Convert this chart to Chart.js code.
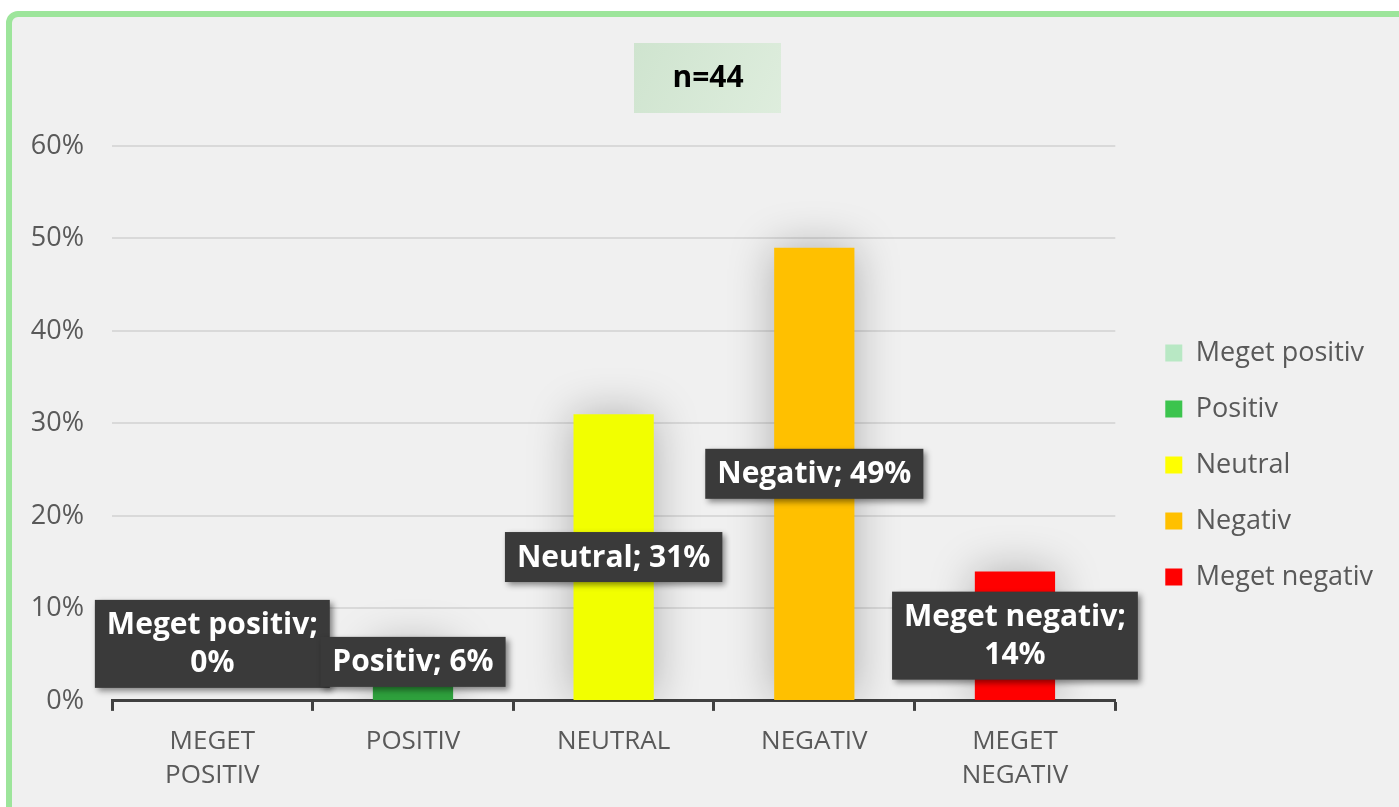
<!DOCTYPE html>
<html>
<head>
<meta charset="utf-8">
<script src="https://cdn.jsdelivr.net/npm/chart.js@4.4.0/dist/chart.umd.min.js"></script>
<style>
  html, body { margin: 0; padding: 0; background: #ffffff; overflow: hidden; }
  #frame {
    position: absolute; left: 6px; top: 11px; width: 1500px; height: 900px;
    border: 6px solid #9de59b; border-radius: 12px; background: #f0f0f0;
  }
  #wrap { position: absolute; left: 0; top: 0; width: 1399px; height: 807px; }
</style>
</head>
<body>
<div id="frame"></div>
<div id="wrap"><canvas id="chart"></canvas></div>
<script>
// data
const categories = ['Meget positiv', 'Positiv', 'Neutral', 'Negativ', 'Meget negativ'];
const tickLabels = [['MEGET', 'POSITIV'], 'POSITIV', 'NEUTRAL', 'NEGATIV', ['MEGET', 'NEGATIV']];
const values = [0, 6, 31, 49, 14];
const barColors = ['#b8e8c4', '#2ea03c', '#f2ff00', '#ffc000', '#ff0000'];
const legendColors = ['#b8e8c4', '#3cc44e', '#ffff00', '#ffc000', '#ff0000'];
const yTicks = [0, 10, 20, 30, 40, 50, 60];
const titleText = 'n=44';

const FONT = "'Open Sans', sans-serif";
const GREY = '#595959';

// nudge title and legend after layout (excel puts them a bit off the grid)
const nudge = {
  id: 'nudge',
  afterLayout(chart) {
    const t = chart.titleBlock, l = chart.legend;
    const dt = 708 - (t.left + t.right) / 2;
    t.left += dt; t.right += dt;
    l.left += 21; l.right += 21;
  }
};

// green box behind the title
const titleBox = {
  id: 'titleBox',
  beforeDraw(chart) {
    const t = chart.titleBlock;
    if (!t) return;
    const ctx = chart.ctx;
    const cx = (t.left + t.right) / 2;
    const g = ctx.createLinearGradient(cx - 74, 43, cx + 74, 113);
    g.addColorStop(0, '#cfe4cf');
    g.addColorStop(1, '#deeddd');
    ctx.save();
    ctx.fillStyle = g;
    ctx.fillRect(cx - 74, 43, 147, 70);
    ctx.restore();
  }
};

// soft glow round the bars
const barGlow = {
  id: 'barGlow',
  beforeDatasetsDraw(chart) {
    const ctx = chart.ctx;
    ctx.save();
    ctx.shadowColor = 'rgba(0,0,0,0.28)';
    ctx.shadowBlur = 45;
  },
  afterDatasetsDraw(chart) {
    chart.ctx.restore();
  }
};

// dark callout labels "Name; NN%"
const callouts = {
  id: 'callouts',
  afterDatasetsDraw(chart) {
    const ctx = chart.ctx;
    const meta = chart.getDatasetMeta(0);
    ctx.save();
    ctx.font = 'bold 30px ' + FONT;
    ctx.textAlign = 'center';
    ctx.textBaseline = 'middle';
    meta.data.forEach((bar, i) => {
      const full = categories[i] + '; ' + values[i] + '%';
      let lines = [full];
      if (ctx.measureText(full).width > 230) lines = [categories[i] + ';', values[i] + '%'];
      const w = Math.max(...lines.map(l => ctx.measureText(l).width)) + 24;
      const lh = 38;
      const h = lines.length * lh + 12;
      let cy = (bar.y + bar.base) / 2;
      if (cy + h / 2 > bar.base - 13) cy = bar.base - 13 - h / 2;
      const x0 = bar.x - w / 2, y0 = cy - h / 2;
      ctx.shadowColor = 'rgba(0,0,0,0.45)';
      ctx.shadowBlur = 6;
      ctx.shadowOffsetX = 3;
      ctx.shadowOffsetY = 3;
      ctx.fillStyle = '#3a3a3a';
      ctx.fillRect(x0, y0, w, h);
      ctx.shadowColor = 'transparent';
      ctx.fillStyle = '#ffffff';
      lines.forEach((l, k) => {
        ctx.fillText(l, bar.x, y0 + 6 + lh * k + lh / 2 + 1);
      });
    });
    ctx.restore();
  }
};

new Chart(document.getElementById('chart'), {
  type: 'bar',
  data: {
    labels: tickLabels,
    datasets: [{
      label: 'Andel',
      data: values,
      backgroundColor: barColors,
      categoryPercentage: 1,
      barPercentage: 0.4
    }]
  },
  options: {
    responsive: true,
    maintainAspectRatio: false,
    animation: false,
    layout: { padding: { left: 16, right: 37, top: 43, bottom: 0 } },
    plugins: {
      title: {
        display: true,
        text: titleText,
        color: '#000000',
        font: { family: FONT, size: 30, weight: 'bold', lineHeight: 1.2 },
        padding: { top: 17, bottom: 50 }
      },
      legend: {
        position: 'right',
        title: { display: true, text: ' ', font: { size: 10 }, padding: { top: 34, bottom: 34 } },
        labels: {
          color: GREY,
          font: { family: FONT, size: 27 },
          boxWidth: 17,
          boxHeight: 17,
          padding: 29,
          generateLabels: () => categories.map((c, i) => ({
            text: c, fillStyle: legendColors[i], strokeStyle: legendColors[i], lineWidth: 0, index: i, fontColor: GREY
          }))
        }
      },
      tooltip: { enabled: false }
    },
    scales: {
      x: {
        grid: { offset: true, drawOnChartArea: false, drawTicks: true, tickLength: 10, tickColor: '#404040', tickWidth: 3 },
        border: { display: true, color: '#404040', width: 3 },
        ticks: { color: GREY, font: { family: FONT, size: 26, lineHeight: 1.31 }, padding: 14, maxRotation: 0, autoSkip: false }
      },
      y: {
        min: 0,
        max: 60,
        afterFit(scale) { scale.width = 96; },
        afterBuildTicks(scale) { scale.ticks = yTicks.map(v => ({ value: v })); },
        grid: { color: '#d9d9d9', lineWidth: 2, drawTicks: false },
        border: { display: false },
        ticks: { color: GREY, font: { family: FONT, size: 27 }, padding: 28, callback: v => v + '%' }
      }
    }
  },
  plugins: [nudge, titleBox, barGlow, callouts]
});
</script>
</body>
</html>
